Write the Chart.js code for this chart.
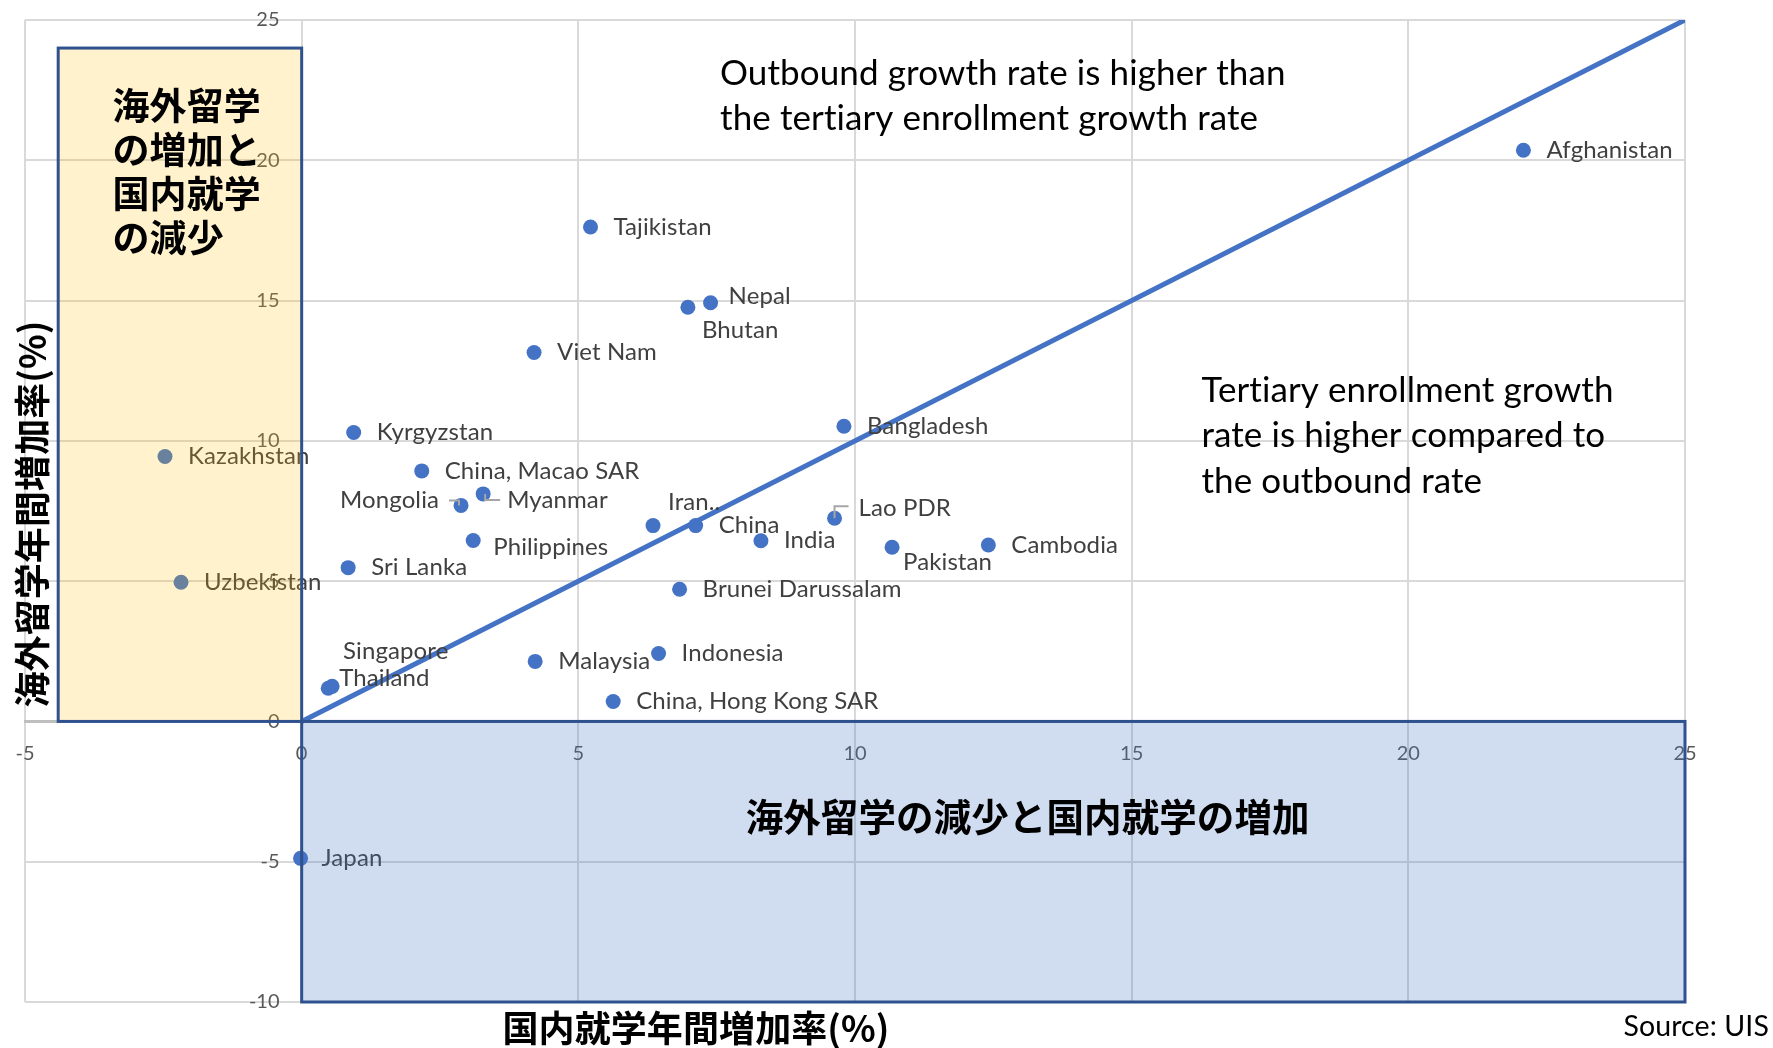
<!DOCTYPE html>
<html><head><meta charset="utf-8">
<script src="https://cdn.jsdelivr.net/npm/chart.js@4/dist/chart.umd.min.js"></script>
<style>html,body{margin:0;padding:0;background:#fff}#wrap{width:1773px;height:1048px;position:relative}</style>
</head><body><div id="wrap"><canvas id="c" width="1773" height="1048"></canvas></div>
<script>
// ---- data ----
const countries = ['Afghanistan','Tajikistan','Nepal','Bhutan','Viet Nam','Kyrgyzstan','Kazakhstan','China, Macao SAR','Myanmar','Mongolia','Bangladesh','Iran..','China','Lao PDR','India','Pakistan','Cambodia','Philippines','Sri Lanka','Uzbekistan','Brunei Darussalam','Singapore','Thailand','Malaysia','Indonesia','China, Hong Kong SAR','Japan'];
const enrolmentGrowth = [22.08,5.22,7.39,6.98,4.20,0.94,-2.47,2.17,3.28,2.88,9.80,6.35,7.12,9.63,8.30,10.67,12.41,3.10,0.84,-2.18,6.83,0.55,0.48,4.22,6.45,5.63,-0.02];
const outboundGrowth  = [20.36,17.62,14.92,14.76,13.15,10.30,9.44,8.93,8.11,7.70,10.52,6.98,6.98,7.24,6.44,6.21,6.29,6.45,5.48,4.96,4.71,1.25,1.18,2.14,2.42,0.71,-4.88];
const parityX = [0, 25];
const parityY = [0, 25];
const xTickValues = [-5, 0, 5, 10, 15, 20, 25];
const yTickValues = [-10, -5, 0, 5, 10, 15, 20, 25];

// ---- label placement (pixels, style only) ----
const labelPlacement = {
  'Nepal': {dx: 18, dy: -7},
  'Bhutan': {dx: 14, dy: 23},
  'Myanmar': {dx: 24, dy: 6, leader: [[2,0],[2,6],[17,6]]},
  'Mongolia': {dx: -22, dy: -5, align: 'right', leader: [[-2,0],[-2,-5],[-12,-5]]},
  'Iran..': {dx: 15, dy: -23},
  'Lao PDR': {dx: 24, dy: -10, leader: [[0,0],[0,-12],[14,-12]]},
  'Pakistan': {dx: 11, dy: 15},
  'Philippines': {dx: 20, dy: 7},
  'Singapore': {dx: 11, dy: -35},
  'Thailand': {dx: 11, dy: -10},
  'Japan': {dx: 21, dy: 0}
};

const LATIN = 'Lato, "Open Sans", sans-serif';
const CJK = '"Noto Sans CJK JP", "Noto Sans CJK SC", sans-serif';

const scatterPoints = countries.map((c, i) => ({x: enrolmentGrowth[i], y: outboundGrowth[i]}));
const parityPoints = parityX.map((v, i) => ({x: v, y: parityY[i]}));

const overlayPlugin = {
  id: 'overlay',
  afterDatasetsDraw(chart) {
    const {ctx, scales: {x, y}} = chart;
    ctx.save();
    if ('letterSpacing' in ctx) ctx.letterSpacing = '0.1px';
    // data labels
    ctx.font = '24px ' + LATIN;
    ctx.fillStyle = '#404040';
    ctx.textBaseline = 'middle';
    countries.forEach((name, i) => {
      const px = x.getPixelForValue(enrolmentGrowth[i]);
      const py = y.getPixelForValue(outboundGrowth[i]);
      const p = labelPlacement[name] || {dx: 23, dy: 0};
      if (p.leader) {
        ctx.strokeStyle = '#a6a6a6';
        ctx.lineWidth = 2;
        ctx.beginPath();
        p.leader.forEach((pt, k) => k ? ctx.lineTo(px + pt[0], py + pt[1]) : ctx.moveTo(px + pt[0], py + pt[1]));
        ctx.stroke();
      }
      ctx.textAlign = p.align || 'left';
      ctx.fillText(name, px + p.dx, py + p.dy);
    });
    // quadrant boxes (semi-transparent, on top)
    const box = (x0, y0, x1, y1, fill) => {
      const l = x.getPixelForValue(x0), r = x.getPixelForValue(x1);
      const t = y.getPixelForValue(y1), b = y.getPixelForValue(y0);
      ctx.fillStyle = fill;
      ctx.fillRect(l, t, r - l, b - t);
      ctx.strokeStyle = '#2F528F';
      ctx.lineWidth = 3;
      ctx.strokeRect(l, t, r - l, b - t);
    };
    box(-4.4, 0, 0, 24, 'rgba(255,192,0,0.2)');
    box(0, -10, 25, 0, 'rgba(68,114,196,0.25)');
    // box texts
    ctx.fillStyle = '#000';
    ctx.textBaseline = 'middle';
    ctx.textAlign = 'left';
    ctx.font = 'bold 37px ' + CJK;
    const lx = x.getPixelForValue(-3.42);
    const ly = y.getPixelForValue(21.93);
    ['海外留学', 'の増加と', '国内就学', 'の減少'].forEach((s, k) => ctx.fillText(s, lx, ly + k * 44));
    ctx.textAlign = 'center';
    ctx.font = 'bold 37.5px ' + CJK;
    ctx.fillText('海外留学の減少と国内就学の増加', x.getPixelForValue(13.12), y.getPixelForValue(-3.39));
    // annotations
    ctx.textAlign = 'left';
    ctx.font = '35px ' + LATIN;
    const ox = x.getPixelForValue(7.56), oy = y.getPixelForValue(23.07);
    ['Outbound growth rate is higher than', 'the tertiary enrollment growth rate'].forEach((s, k) => ctx.fillText(s, ox, oy + k * 45));
    const tx = x.getPixelForValue(16.26), ty = y.getPixelForValue(11.79);
    ['Tertiary enrollment growth', 'rate is higher compared to', 'the outbound rate'].forEach((s, k) => ctx.fillText(s, tx, ty + k * 45.5));
    // axis titles
    ctx.font = 'bold 36px ' + CJK;
    ctx.textAlign = 'center';
    ctx.fillText('国内就学年間増加率(%)', 696, 1028);
    ctx.save();
    ctx.translate(32, 514);
    ctx.rotate(-Math.PI / 2);
    ctx.fillText('海外留学年間増加率(%)', 0, 0);
    ctx.restore();
    // source
    ctx.font = '28.5px ' + LATIN;
    ctx.textAlign = 'right';
    ctx.fillText('Source: UIS', 1769, 1027);
    ctx.restore();
  }
};

new Chart(document.getElementById('c'), {
  type: 'scatter',
  data: {
    datasets: [
      {type: 'line', data: parityPoints, borderColor: '#4472C4', borderWidth: 5, pointRadius: 0, fill: false, order: 1},
      {data: scatterPoints, backgroundColor: '#4472C4', borderWidth: 0, pointRadius: 7.5, pointHoverRadius: 7.5, order: 0}
    ]
  },
  options: {
    responsive: false,
    animation: false,
    devicePixelRatio: 1,
    layout: {padding: {left: 25, right: 88, top: 20, bottom: 46}},
    plugins: {legend: {display: false}, tooltip: {enabled: false}},
    scales: {
      x: {
        type: 'linear', min: -5, max: 25,
        position: {y: 0},
        afterBuildTicks: s => { s.ticks = xTickValues.map(v => ({value: v})); },
        ticks: {color: '#595959', font: {family: LATIN, size: 20}, padding: 8},
        grid: {color: '#d9d9d9', lineWidth: 2, tickLength: 12, tickColor: 'rgba(0,0,0,0)'},
        border: {color: '#bfbfbf', width: 3}
      },
      y: {
        type: 'linear', min: -10, max: 25,
        position: {x: -0.4},
        afterBuildTicks: s => { s.ticks = yTickValues.map(v => ({value: v})); },
        ticks: {color: '#595959', font: {family: LATIN, size: 20}, padding: 8},
        grid: {color: '#d9d9d9', lineWidth: 2, tickLength: 14, tickColor: 'rgba(0,0,0,0)'},
        border: {display: false}
      }
    }
  },
  plugins: [overlayPlugin]
});
</script></body></html>
